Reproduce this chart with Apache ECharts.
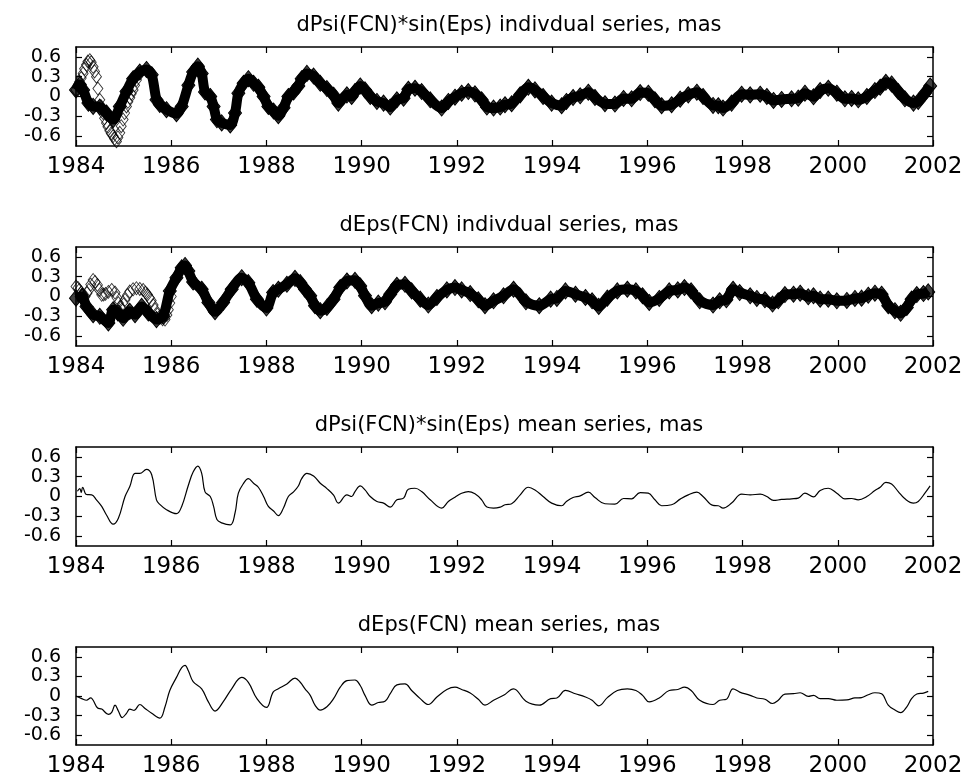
<!DOCTYPE html>
<html>
	<head>
		<meta charset="UTF-8">
		<title>FCN series</title>
		<style>
			html, body { margin: 0; padding: 0; background: #fff; }
			#main { width: 967px; height: 778px; }
		</style>
	</head>
	<body>
		<div id="main"></div>
	</body>
	<script src="https://cdn.jsdelivr.net/npm/echarts@6/dist/echarts.min.js"></script>
	<script type="text/javascript">
		// panel titles
		var titles = [
			'dPsi(FCN)*sin(Eps) indivdual series, mas',
			'dEps(FCN) indivdual series, mas',
			'dPsi(FCN)*sin(Eps) mean series, mas',
			'dEps(FCN) mean series, mas'
		];
		var yTicks = [-0.6, -0.3, 0, 0.3, 0.6];

		// mean series [year, mas]
		var psiMean = [
			[1984.03,0.08],[1984.08,0.12],[1984.11,0.06],[1984.14,0.14],[1984.22,0.03],[1984.33,0.025],
			[1984.43,-0.05],[1984.54,-0.15],[1984.64,-0.28],[1984.78,-0.42],[1984.89,-0.33],[1985.03,0.0],
			[1985.13,0.15],[1985.24,0.35],[1985.34,0.35],[1985.48,0.41],[1985.59,0.33],[1985.69,-0.05],
			[1985.76,-0.12],[1985.9,-0.2],[1986.11,-0.26],[1986.22,-0.15],[1986.36,0.17],[1986.46,0.37],
			[1986.56,0.46],[1986.64,0.35],[1986.71,0.07],[1986.82,0.0],[1986.89,-0.15],[1986.96,-0.35],
			[1987.06,-0.4],[1987.24,-0.43],[1987.34,-0.25],[1987.41,0.05],[1987.52,0.2],[1987.62,0.27],
			[1987.73,0.2],[1987.83,0.14],[1987.94,0.0],[1988.04,-0.15],[1988.15,-0.22],[1988.25,-0.29],
			[1988.36,-0.17],[1988.46,0.0],[1988.57,0.07],[1988.67,0.16],[1988.74,0.27],[1988.85,0.35],
			[1988.99,0.31],[1989.13,0.2],[1989.27,0.12],[1989.41,0.02],[1989.51,-0.1],[1989.69,0.025],
			[1989.79,0.0],[1989.86,0.075],[1989.97,0.16],[1990.07,0.1],[1990.18,0.0],[1990.32,-0.075],
			[1990.46,-0.1],[1990.6,-0.16],[1990.74,-0.05],[1990.88,-0.025],[1990.98,0.11],[1991.12,0.125],
			[1991.26,0.075],[1991.44,-0.05],[1991.68,-0.175],[1991.82,-0.075],[1991.96,-0.01],[1992.1,0.05],
			[1992.24,0.075],[1992.38,0.04],[1992.52,-0.05],[1992.63,-0.16],[1992.77,-0.175],[1992.91,-0.16],
			[1993.01,-0.125],[1993.15,-0.11],[1993.33,0.025],[1993.5,0.14],[1993.64,0.1],[1993.81,0.0],
			[1993.99,-0.1],[1994.2,-0.14],[1994.3,-0.075],[1994.44,-0.015],[1994.59,0.01],[1994.76,0.065],
			[1994.9,-0.015],[1995.11,-0.11],[1995.32,-0.115],[1995.5,-0.03],[1995.67,-0.035],[1995.85,0.06],
			[1996.02,0.05],[1996.16,-0.05],[1996.3,-0.14],[1996.51,-0.125],[1996.69,-0.04],[1996.86,0.025],
			[1997.04,0.065],[1997.17,0.0],[1997.38,-0.135],[1997.49,-0.14],[1997.59,-0.175],[1997.77,-0.1],
			[1997.98,0.035],[1998.16,0.025],[1998.37,0.035],[1998.51,0.0],[1998.65,-0.06],[1998.82,-0.045],
			[1999.03,-0.035],[1999.17,-0.025],[1999.31,0.05],[1999.49,-0.005],[1999.63,0.09],[1999.8,0.125],
			[1999.98,0.05],[2000.15,-0.035],[2000.29,-0.03],[2000.43,-0.05],[2000.61,0.0],[2000.78,0.09],
			[2000.89,0.14],[2001.01,0.215],[2001.13,0.19],[2001.27,0.075],[2001.41,-0.035],[2001.59,-0.1],
			[2001.69,-0.075],[2001.83,0.05],[2001.94,0.16]
		];
		var epsMean = [
			[1984.0,0.0],[1984.12,-0.04],[1984.22,-0.065],[1984.31,-0.03],[1984.36,-0.065],[1984.45,-0.18],
			[1984.54,-0.2],[1984.68,-0.28],[1984.75,-0.25],[1984.82,-0.14],[1984.89,-0.23],[1984.97,-0.33],
			[1985.06,-0.265],[1985.13,-0.2],[1985.22,-0.22],[1985.34,-0.13],[1985.45,-0.19],[1985.59,-0.265],
			[1985.76,-0.34],[1985.87,-0.165],[1985.97,0.085],[1986.11,0.285],[1986.22,0.435],[1986.29,0.47],
			[1986.36,0.385],[1986.46,0.22],[1986.64,0.11],[1986.78,-0.09],[1986.92,-0.23],[1987.09,-0.09],
			[1987.27,0.11],[1987.48,0.285],[1987.62,0.21],[1987.8,-0.04],[1988.0,-0.175],[1988.14,0.06],
			[1988.25,0.11],[1988.43,0.185],[1988.6,0.275],[1988.71,0.21],[1988.81,0.11],[1988.92,0.01],
			[1989.02,-0.14],[1989.13,-0.215],[1989.27,-0.165],[1989.41,-0.04],[1989.55,0.135],[1989.69,0.235],
			[1989.86,0.245],[1989.97,0.16],[1990.07,0.01],[1990.21,-0.14],[1990.35,-0.1],[1990.49,-0.08],
			[1990.6,0.035],[1990.74,0.17],[1990.91,0.185],[1991.05,0.085],[1991.23,-0.04],[1991.4,-0.13],
			[1991.58,-0.015],[1991.79,0.1],[1991.96,0.135],[1992.1,0.1],[1992.28,0.045],[1992.45,-0.05],
			[1992.59,-0.14],[1992.77,-0.065],[1992.98,0.01],[1993.19,0.11],[1993.45,-0.08],[1993.73,-0.14],
			[1993.97,-0.04],[1994.1,-0.03],[1994.28,0.085],[1994.49,0.035],[1994.7,-0.015],[1994.84,-0.065],
			[1994.98,-0.15],[1995.16,-0.025],[1995.37,0.085],[1995.58,0.11],[1995.76,0.085],[1995.9,0.01],
			[1996.04,-0.09],[1996.25,-0.03],[1996.46,0.085],[1996.64,0.1],[1996.78,0.135],[1996.92,0.085],
			[1997.1,-0.065],[1997.38,-0.13],[1997.52,-0.065],[1997.66,-0.05],[1997.8,0.11],[1997.94,0.06],
			[1998.16,0.01],[1998.3,-0.03],[1998.47,-0.05],[1998.63,-0.115],[1998.75,-0.065],[1998.89,0.03],
			[1999.07,0.035],[1999.21,0.05],[1999.38,-0.005],[1999.49,0.01],[1999.63,-0.04],[1999.8,-0.04],
			[1999.98,-0.065],[2000.19,-0.06],[2000.36,-0.03],[2000.5,-0.025],[2000.64,0.02],[2000.78,0.05],
			[2000.92,0.035],[2001.06,-0.14],[2001.2,-0.215],[2001.32,-0.255],[2001.45,-0.165],[2001.55,-0.04],
			[2001.66,0.03],[2001.8,0.045],[2001.9,0.07]
		];

		// individual series: early part of the main band (later it lies on the mean)
		var psiIndEarly = [
			[1984.0,0.1],[1984.08,0.18],[1984.15,0.1],[1984.26,-0.1],[1984.36,-0.15],[1984.5,-0.16],
			[1984.64,-0.25],[1984.78,-0.35],[1984.92,-0.15],[1985.06,0.075],[1985.2,0.27],[1985.34,0.37]
		];
		var epsIndEarly = [
			[1984.0,-0.025],[1984.12,0.0],[1984.22,-0.15],[1984.36,-0.275],[1984.5,-0.3],[1984.68,-0.4],
			[1984.78,-0.2],[1984.88,-0.25],[1984.99,-0.33],[1985.13,-0.225],[1985.24,-0.275],[1985.38,-0.15],
			[1985.52,-0.25],[1985.69,-0.35],[1985.83,-0.3]
		];
		// the diverging individual series at the start
		var psiIndOut = [
			[1984.0,0.1],[1984.04,0.16],[1984.07,0.22],[1984.11,0.28],[1984.15,0.35],[1984.18,0.42],
			[1984.22,0.48],[1984.25,0.53],[1984.29,0.55],[1984.32,0.52],[1984.36,0.45],[1984.39,0.38],
			[1984.43,0.3],[1984.46,0.12],[1984.5,-0.05],[1984.53,-0.15],[1984.57,-0.25],[1984.6,-0.33],
			[1984.64,-0.4],[1984.67,-0.46],[1984.71,-0.52],[1984.74,-0.56],[1984.78,-0.6],[1984.81,-0.64],
			[1984.85,-0.68],[1984.88,-0.62],[1984.92,-0.55],[1984.95,-0.45],[1984.99,-0.35],[1985.02,-0.25],
			[1985.06,-0.15],[1985.09,-0.08],[1985.13,-0.02],[1985.16,0.04],[1985.2,0.1],[1985.23,0.17],
			[1985.27,0.25]
		];
		var epsIndOut = [
			[1984.0,0.15],[1984.04,0.13],[1984.07,0.1],[1984.11,0.06],[1984.14,0.03],[1984.19,0.0],
			[1984.23,0.05],[1984.27,0.1],[1984.31,0.18],[1984.36,0.25],[1984.4,0.22],[1984.45,0.175],
			[1984.49,0.1],[1984.54,0.025],[1984.58,0.03],[1984.62,0.04],[1984.68,0.07],[1984.75,0.1],
			[1984.82,0.06],[1984.86,-0.02],[1984.89,-0.1],[1984.93,-0.16],[1984.96,-0.2],[1985.0,-0.12],
			[1985.03,-0.05],[1985.08,0.02],[1985.13,0.075],[1985.2,0.11],[1985.27,0.125],[1985.34,0.115],
			[1985.41,0.1],[1985.46,0.06],[1985.5,0.03],[1985.54,-0.02],[1985.58,-0.06],[1985.62,-0.13],
			[1985.66,-0.2],[1985.71,-0.27],[1985.76,-0.325],[1985.82,-0.345],[1985.87,-0.35],[1985.91,-0.28],
			[1985.94,-0.2],[1985.97,-0.1],[1986.0,0.0]
		];

		var psiInd = psiIndEarly.concat(psiMean.filter(function(d){ return d[0] > 1985.4; }));
		var epsInd = epsIndEarly.concat(epsMean.filter(function(d){ return d[0] > 1985.9; }));

		var FONT = 'DejaVu Sans';
		var myChart = echarts.init(document.getElementById('main'));

		var grids = [], xAxes = [], yAxes = [], titleList = [];
		for (var i = 0; i < 4; i++) {
			grids.push({left: 76, right: 34, top: 47 + 200 * i, height: 99});
			titleList.push({
				text: titles[i], left: 504, top: 10 + 200 * i, textAlign: 'center',
				textStyle: {fontFamily: FONT, fontSize: 21, fontWeight: 'normal', color: '#000'}
			});
			var line = {show: true, onZero: false, lineStyle: {color: '#000', width: 1.5}};
			var tick = {show: true, inside: true, length: 6, lineStyle: {color: '#000', width: 1.2}};
			xAxes.push({
				type: 'value', gridIndex: i, position: 'bottom', min: 1984, max: 2002, interval: 2,
				axisLine: line, axisTick: tick, splitLine: {show: false},
				axisLabel: {fontFamily: FONT, fontSize: 23, lineHeight: 23, color: '#000', margin: 10,
					showMinLabel: true, showMaxLabel: true, hideOverlap: false,
					formatter: function(v){ return String(v); }}
			});
			xAxes.push({
				type: 'value', gridIndex: i, position: 'top', min: 1984, max: 2002, interval: 2,
				axisLine: line, axisTick: tick, splitLine: {show: false}, axisLabel: {show: false}
			});
			yAxes.push({
				type: 'value', gridIndex: i, position: 'left', min: -0.75, max: 0.75,
				axisLine: line, splitLine: {show: false},
				axisTick: {show: true, inside: true, length: 6, customValues: yTicks,
					lineStyle: {color: '#000', width: 1.2}},
				axisLabel: {customValues: yTicks, interval: 0, fontFamily: FONT, fontSize: 19, lineHeight: 14,
					color: '#000', margin: 15, hideOverlap: false, showMinLabel: true, showMaxLabel: true,
					formatter: function(v){ return v === 0 ? '0' : String(v); }}
			});
			yAxes.push({
				type: 'value', gridIndex: i, position: 'right', min: -0.75, max: 0.75,
				axisLine: line, splitLine: {show: false},
				axisTick: {show: true, inside: true, length: 6, customValues: yTicks,
					lineStyle: {color: '#000', width: 1.2}},
				axisLabel: {show: false}
			});
		}

		function band(data, idx) {
			return {
				type: 'line', xAxisIndex: 2 * idx, yAxisIndex: 2 * idx, data: data,
				smooth: 0.3, showAllSymbol: true, symbol: 'diamond', symbolSize: [13, 16],
				itemStyle: {color: 'rgba(0,0,0,0.75)', borderColor: '#000', borderWidth: 1},
				lineStyle: {color: '#000', width: 10}, animation: false, silent: true
			};
		}
		function outlier(data, idx) {
			return {
				type: 'scatter', xAxisIndex: 2 * idx, yAxisIndex: 2 * idx, data: data,
				symbol: 'diamond', symbolSize: [10, 13],
				itemStyle: {color: 'rgba(0,0,0,0)', borderColor: '#000', borderWidth: 0.9},
				animation: false, silent: true
			};
		}
		function meanLine(data, idx) {
			return {
				type: 'line', xAxisIndex: 2 * idx, yAxisIndex: 2 * idx, data: data,
				smooth: 0.4, showSymbol: false, lineStyle: {color: '#000', width: 1.2},
				animation: false, silent: true
			};
		}

		myChart.setOption({
			backgroundColor: '#fff',
			title: titleList,
			grid: grids,
			xAxis: xAxes,
			yAxis: yAxes,
			series: [
				outlier(psiIndOut, 0), band(psiInd, 0),
				outlier(epsIndOut, 1), band(epsInd, 1),
				meanLine(psiMean, 2),
				meanLine(epsMean, 3)
			]
		});
	</script>
</html>
